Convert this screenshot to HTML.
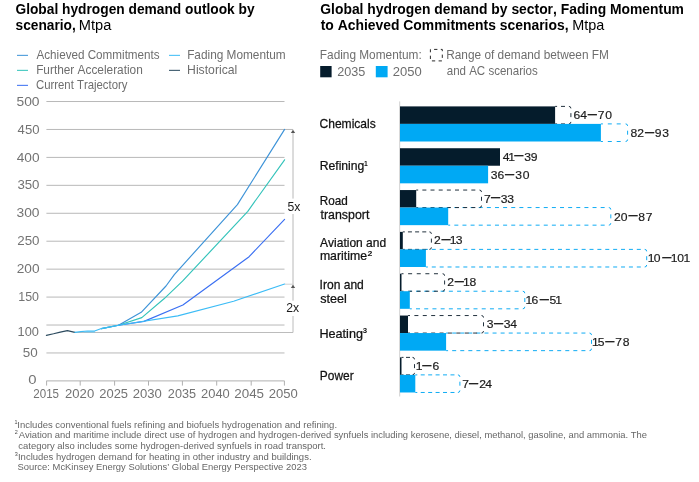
<!DOCTYPE html>
<html><head><meta charset="utf-8"><title>Global hydrogen demand</title>
<style>
html,body{margin:0;padding:0;background:#fff;}
body{width:699px;height:482px;overflow:hidden;}
svg{display:block;will-change:transform;font-family:'Liberation Sans', Arial, sans-serif;font-kerning:none;}
</style></head><body>
<svg width="699" height="482" viewBox="0 0 699 482">
<text transform="matrix(0.9554,0,0,1,15.44,13.60)" font-size="14.4" font-weight="bold" fill="#000">Global hydrogen demand outlook by</text>
<text transform="matrix(0.9537,0,0,1,15.52,30.10)" font-size="14.4" font-weight="bold" fill="#000">scenario,</text>
<text transform="matrix(1.0152,0,0,1,78.80,30.10)" font-size="14.4" fill="#000">Mtpa</text>
<text transform="matrix(0.9642,0,0,1,320.33,14.10)" font-size="14.4" font-weight="bold" fill="#000">Global hydrogen demand by sector, Fading Momentum</text>
<text transform="matrix(0.9655,0,0,1,320.73,29.90)" font-size="14.4" font-weight="bold" fill="#000">to Achieved Commitments scenarios,</text>
<text transform="matrix(1.0022,0,0,1,572.32,29.90)" font-size="14.4" fill="#000">Mtpa</text>
<line x1="17" y1="55.4" x2="28" y2="55.4" stroke="#3d93d8" stroke-width="1.2" opacity="0.85"/>
<text transform="matrix(0.9345,0,0,1,36.48,58.90)" font-size="12.5" fill="#6e6e6e">Achieved Commitments</text>
<line x1="17" y1="70.4" x2="28" y2="70.4" stroke="#33c3ba" stroke-width="1.2" opacity="0.85"/>
<text transform="matrix(0.9484,0,0,1,36.13,74.20)" font-size="12.5" fill="#6e6e6e">Further Acceleration</text>
<line x1="17" y1="85.4" x2="28" y2="85.4" stroke="#3a6ff2" stroke-width="1.2" opacity="0.85"/>
<text transform="matrix(0.9104,0,0,1,35.92,89.10)" font-size="12.5" fill="#6e6e6e">Current Trajectory</text>
<line x1="169" y1="55.4" x2="180" y2="55.4" stroke="#3cbcf6" stroke-width="1.2" opacity="0.85"/>
<text transform="matrix(0.9476,0,0,1,187.13,58.90)" font-size="12.5" fill="#6e6e6e">Fading Momentum</text>
<line x1="169" y1="70.4" x2="180" y2="70.4" stroke="#2b4a5e" stroke-width="1.2" opacity="0.85"/>
<text transform="matrix(0.9771,0,0,1,187.10,74.20)" font-size="12.5" fill="#6e6e6e">Historical</text>
<line x1="46.4" y1="352.96" x2="284.5" y2="352.96" stroke="#b8b8b8" stroke-width="1"/>
<line x1="46.4" y1="325.02" x2="284.5" y2="325.02" stroke="#b8b8b8" stroke-width="1"/>
<line x1="46.4" y1="297.09" x2="284.5" y2="297.09" stroke="#b8b8b8" stroke-width="1"/>
<line x1="46.4" y1="269.15" x2="284.5" y2="269.15" stroke="#b8b8b8" stroke-width="1"/>
<line x1="46.4" y1="241.21" x2="284.5" y2="241.21" stroke="#b8b8b8" stroke-width="1"/>
<line x1="46.4" y1="213.27" x2="284.5" y2="213.27" stroke="#b8b8b8" stroke-width="1"/>
<line x1="46.4" y1="185.34" x2="284.5" y2="185.34" stroke="#b8b8b8" stroke-width="1"/>
<line x1="46.4" y1="157.40" x2="284.5" y2="157.40" stroke="#b8b8b8" stroke-width="1"/>
<line x1="46.4" y1="129.46" x2="293.2" y2="129.46" stroke="#b8b8b8" stroke-width="1"/>
<line x1="46.4" y1="101.52" x2="284.5" y2="101.52" stroke="#b8b8b8" stroke-width="1"/>
<line x1="46.4" y1="380.9" x2="284.5" y2="380.9" stroke="#b0b0b0" stroke-width="1"/>
<line x1="46.6" y1="380.9" x2="46.6" y2="385.6" stroke="#b0b0b0" stroke-width="1"/>
<line x1="80.2" y1="380.9" x2="80.2" y2="385.6" stroke="#b0b0b0" stroke-width="1"/>
<line x1="114.6" y1="380.9" x2="114.6" y2="385.6" stroke="#b0b0b0" stroke-width="1"/>
<line x1="148.5" y1="380.9" x2="148.5" y2="385.6" stroke="#b0b0b0" stroke-width="1"/>
<line x1="182.4" y1="380.9" x2="182.4" y2="385.6" stroke="#b0b0b0" stroke-width="1"/>
<line x1="216.7" y1="380.9" x2="216.7" y2="385.6" stroke="#b0b0b0" stroke-width="1"/>
<line x1="251.2" y1="380.9" x2="251.2" y2="385.6" stroke="#b0b0b0" stroke-width="1"/>
<line x1="284.4" y1="380.9" x2="284.4" y2="385.6" stroke="#b0b0b0" stroke-width="1"/>
<text transform="matrix(1.0899,0,0,1,16.45,105.80)" font-size="12.7" fill="#737373">500</text>
<text transform="matrix(1.0342,0,0,1,17.60,134.00)" font-size="12.7" fill="#737373">450</text>
<text transform="matrix(1.0783,0,0,1,16.69,162.00)" font-size="12.7" fill="#737373">400</text>
<text transform="matrix(1.0441,0,0,1,17.39,189.30)" font-size="12.7" fill="#737373">350</text>
<text transform="matrix(1.0886,0,0,1,16.47,217.40)" font-size="12.7" fill="#737373">300</text>
<text transform="matrix(1.0521,0,0,1,17.23,245.00)" font-size="12.7" fill="#737373">250</text>
<text transform="matrix(1.0771,0,0,1,16.71,272.60)" font-size="12.7" fill="#737373">200</text>
<text transform="matrix(0.9784,0,0,1,18.25,301.30)" font-size="12.7" fill="#737373">150</text>
<text transform="matrix(1.0088,0,0,1,17.62,335.60)" font-size="12.7" fill="#737373">100</text>
<text transform="matrix(1.0593,0,0,1,22.76,356.60)" font-size="12.7" fill="#737373">50</text>
<text transform="matrix(1.1695,0,0,1,28.32,384.40)" font-size="12.7" fill="#737373">0</text>
<text transform="matrix(0.9121,0,0,1,33.32,397.90)" font-size="12.7" fill="#737373">2015</text>
<text transform="matrix(1.0325,0,0,1,65.04,397.90)" font-size="12.7" fill="#737373">2020</text>
<text transform="matrix(1.0192,0,0,1,99.25,397.90)" font-size="12.7" fill="#737373">2025</text>
<text transform="matrix(1.0325,0,0,1,132.64,397.90)" font-size="12.7" fill="#737373">2030</text>
<text transform="matrix(0.9970,0,0,1,167.86,397.90)" font-size="12.7" fill="#737373">2035</text>
<text transform="matrix(1.0178,0,0,1,201.05,397.90)" font-size="12.7" fill="#737373">2040</text>
<text transform="matrix(1.0561,0,0,1,234.23,397.90)" font-size="12.7" fill="#737373">2045</text>
<text transform="matrix(1.0288,0,0,1,268.84,397.90)" font-size="12.7" fill="#737373">2050</text>
<polyline points="75,332.5 293,332.5 293,316" fill="none" stroke="#bcbcbc" stroke-width="1"/>
<line x1="293" y1="132" x2="293" y2="198.6" stroke="#b8b8b8" stroke-width="1"/>
<line x1="293" y1="214" x2="293" y2="300.7" stroke="#b8b8b8" stroke-width="1"/>
<line x1="284.8" y1="284.2" x2="293" y2="284.2" stroke="#d0d0d0" stroke-width="1"/>
<polygon points="293,129.8 295.2,132.9 290.8,132.9" fill="#555"/>
<polygon points="293,284.8 295.2,287.9 290.8,287.9" fill="#555"/>
<text transform="matrix(1.0028,0,0,1,287.51,211.30)" font-size="12.2" fill="#1a1a1a">5x</text>
<text transform="matrix(1.0049,0,0,1,286.28,311.90)" font-size="12.2" fill="#1a1a1a">2x</text>
<polyline points="46.4,335.4 53.5,333.8 60.3,332.1 67.4,330.6 74.9,332.4" fill="none" stroke="#2b4a5e" stroke-width="1.15" stroke-linejoin="round" stroke-linecap="round"/>
<polyline points="101.4,328.6 118.5,325.3 144,321.4 182.9,305.0 249.1,256.7 284.6,219.3" fill="none" stroke="#3a6ff2" stroke-width="1.15" stroke-linejoin="round" stroke-linecap="round"/>
<polyline points="101.4,328.6 118.5,325.3 141.8,317.6 164,298.8 182.5,281.2 247.8,211.3 284.6,159.8" fill="none" stroke="#33c3ba" stroke-width="1.15" stroke-linejoin="round" stroke-linecap="round"/>
<polyline points="118.5,325.3 141.2,312.3 166,286 174.3,274.6 237.4,204.6 284.6,129.4" fill="none" stroke="#3d93d8" stroke-width="1.15" stroke-linejoin="round" stroke-linecap="round"/>
<polyline points="118.5,325.3 177.8,315.9 233.6,301.3 284.6,284.0" fill="none" stroke="#3cbcf6" stroke-width="1.15" stroke-linejoin="round" stroke-linecap="round"/>
<polyline points="74.9,332.4 81,331.6 87.5,331.0 94.6,331.1 101.4,328.6 118.5,325.3" fill="none" stroke="#3cbcf6" stroke-width="1.1" stroke-linejoin="round" stroke-linecap="round"/>
<polyline points="84,331.9 94.6,331.9" fill="none" stroke="#5cc6f7" stroke-width="1.0" stroke-linejoin="round" stroke-linecap="round"/>
<text transform="matrix(0.9477,0,0,1,319.83,58.80)" font-size="12.5" fill="#6e6e6e">Fading Momentum:</text>
<rect x="320.2" y="66" width="11.4" height="11.3" fill="#051c2c"/>
<text transform="matrix(1.0130,0,0,1,337.16,76.40)" font-size="12.5" fill="#6e6e6e">2035</text>
<rect x="375.8" y="66" width="11.8" height="11.3" fill="#00a9f4"/>
<text transform="matrix(1.0416,0,0,1,392.75,76.40)" font-size="12.5" fill="#6e6e6e">2050</text>
<rect x="430.4" y="49.4" width="11.9" height="11.5" fill="none" stroke="#2a2a2a" stroke-width="1" stroke-dasharray="3.3 3.4" stroke-dashoffset="3.0"/>
<text transform="matrix(0.9482,0,0,1,446.23,59.40)" font-size="12.5" fill="#6e6e6e">Range of demand between FM</text>
<text transform="matrix(0.9244,0,0,1,446.71,74.90)" font-size="12.5" fill="#6e6e6e">and AC scenarios</text>
<line x1="399.7" y1="101.4" x2="399.7" y2="396.5" stroke="#d0d0d0" stroke-width="1"/>
<path d="M600.90,123.90h2M607.80,123.90H611.80M616.70,123.90H620.70M625.60,123.90Q627.60,123.90 627.60,125.90M627.60,130.70V134.70M627.60,139.50Q627.60,141.50 625.60,141.50M607.80,141.50H611.80M616.70,141.50H620.70M600.90,141.50h2" fill="none" stroke="#10acf4" stroke-width="1"/>
<path d="M555.10,106.40h2M561.00,106.40H565.00M568.90,106.40Q570.90,106.40 570.90,108.40M570.90,113.15V117.15M570.90,121.90Q570.90,123.90 568.90,123.90M561.00,123.90H565.00M555.10,123.90h2" fill="none" stroke="#23323e" stroke-width="1"/>
<text transform="matrix(1.03,0,0,1,0,118.90)" font-size="11.8" fill="#1a1a1a" stroke="#1a1a1a" stroke-width="0.18"><tspan x="556.73 563.31">64</tspan><tspan x="570.70" y="-0.25" font-size="16.0">–</tspan><tspan x="580.45 587.54" y="0">70</tspan></text>
<text transform="matrix(1.03,0,0,1,0,137.00)" font-size="11.8" fill="#1a1a1a" stroke="#1a1a1a" stroke-width="0.18"><tspan x="612.20 618.81">82</tspan><tspan x="626.13" y="-0.25" font-size="16.0">–</tspan><tspan x="635.80 642.92" y="0">93</tspan></text>
<text transform="matrix(1.03,0,0,1,0,160.73)" font-size="11.8" fill="#1a1a1a" stroke="#1a1a1a" stroke-width="0.18"><tspan x="488.16 493.35">41</tspan><tspan x="499.19" y="-0.25" font-size="16.0">–</tspan><tspan x="509.03 515.31" y="0">39</tspan></text>
<text transform="matrix(1.03,0,0,1,0,178.83)" font-size="11.8" fill="#1a1a1a" stroke="#1a1a1a" stroke-width="0.18"><tspan x="476.51 482.94">36</tspan><tspan x="490.36" y="-0.25" font-size="16.0">–</tspan><tspan x="500.30 507.54" y="0">30</tspan></text>
<path d="M448.20,207.56h2M454.33,207.56H458.33M462.46,207.56H466.46M470.59,207.56H474.59M478.72,207.56H482.72M486.85,207.56H490.85M494.98,207.56H498.98M503.11,207.56H507.11M511.24,207.56H515.24M519.37,207.56H523.37M527.50,207.56H531.50M535.63,207.56H539.63M543.76,207.56H547.76M551.89,207.56H555.89M560.02,207.56H564.02M568.15,207.56H572.15M576.28,207.56H580.28M584.41,207.56H588.41M592.54,207.56H596.54M600.67,207.56H604.67M608.80,207.56Q610.80,207.56 610.80,209.56M610.80,214.36V218.36M610.80,223.16Q610.80,225.16 608.80,225.16M454.33,225.16H458.33M462.46,225.16H466.46M470.59,225.16H474.59M478.72,225.16H482.72M486.85,225.16H490.85M494.98,225.16H498.98M503.11,225.16H507.11M511.24,225.16H515.24M519.37,225.16H523.37M527.50,225.16H531.50M535.63,225.16H539.63M543.76,225.16H547.76M551.89,225.16H555.89M560.02,225.16H564.02M568.15,225.16H572.15M576.28,225.16H580.28M584.41,225.16H588.41M592.54,225.16H596.54M600.67,225.16H604.67M448.20,225.16h2" fill="none" stroke="#10acf4" stroke-width="1"/>
<path d="M416.20,190.06h2M422.36,190.06H426.36M430.52,190.06H434.52M438.69,190.06H442.69M446.85,190.06H450.85M455.01,190.06H459.01M463.18,190.06H467.18M471.34,190.06H475.34M479.50,190.06Q481.50,190.06 481.50,192.06M481.50,196.81V200.81M481.50,205.56Q481.50,207.56 479.50,207.56M422.36,207.56H426.36M430.52,207.56H434.52M438.69,207.56H442.69M446.85,207.56H450.85M455.01,207.56H459.01M463.18,207.56H467.18M471.34,207.56H475.34M416.20,207.56h2" fill="none" stroke="#23323e" stroke-width="1"/>
<text transform="matrix(1.03,0,0,1,0,202.56)" font-size="11.8" fill="#1a1a1a" stroke="#1a1a1a" stroke-width="0.18"><tspan x="469.82">7</tspan><tspan x="476.67" y="-0.25" font-size="16.0">–</tspan><tspan x="486.12 492.53" y="0">33</tspan></text>
<text transform="matrix(1.03,0,0,1,0,220.66)" font-size="11.8" fill="#1a1a1a" stroke="#1a1a1a" stroke-width="0.18"><tspan x="596.18 602.79">20</tspan><tspan x="610.12" y="-0.25" font-size="16.0">–</tspan><tspan x="619.78 626.86" y="0">87</tspan></text>
<path d="M425.90,249.39h2M431.79,249.39H435.79M439.67,249.39H443.67M447.56,249.39H451.56M455.44,249.39H459.44M463.33,249.39H467.33M471.21,249.39H475.21M479.10,249.39H483.10M486.99,249.39H490.99M494.87,249.39H498.87M502.76,249.39H506.76M510.64,249.39H514.64M518.53,249.39H522.53M526.41,249.39H530.41M534.30,249.39H538.30M542.19,249.39H546.19M550.07,249.39H554.07M557.96,249.39H561.96M565.84,249.39H569.84M573.73,249.39H577.73M581.61,249.39H585.61M589.50,249.39H593.50M597.39,249.39H601.39M605.27,249.39H609.27M613.16,249.39H617.16M621.04,249.39H625.04M628.93,249.39H632.93M636.81,249.39H640.81M644.70,249.39Q646.70,249.39 646.70,251.39M646.70,256.19V260.19M646.70,264.99Q646.70,266.99 644.70,266.99M431.79,266.99H435.79M439.67,266.99H443.67M447.56,266.99H451.56M455.44,266.99H459.44M463.33,266.99H467.33M471.21,266.99H475.21M479.10,266.99H483.10M486.99,266.99H490.99M494.87,266.99H498.87M502.76,266.99H506.76M510.64,266.99H514.64M518.53,266.99H522.53M526.41,266.99H530.41M534.30,266.99H538.30M542.19,266.99H546.19M550.07,266.99H554.07M557.96,266.99H561.96M565.84,266.99H569.84M573.73,266.99H577.73M581.61,266.99H585.61M589.50,266.99H593.50M597.39,266.99H601.39M605.27,266.99H609.27M613.16,266.99H617.16M621.04,266.99H625.04M628.93,266.99H632.93M636.81,266.99H640.81M425.90,266.99h2" fill="none" stroke="#10acf4" stroke-width="1"/>
<path d="M402.80,231.89h2M407.95,231.89H411.95M415.10,231.89H419.10M422.25,231.89H426.25M429.40,231.89Q431.40,231.89 431.40,233.89M431.40,238.64V242.64M431.40,247.39Q431.40,249.39 429.40,249.39M407.95,249.39H411.95M415.10,249.39H419.10M422.25,249.39H426.25M402.80,249.39h2" fill="none" stroke="#23323e" stroke-width="1"/>
<text transform="matrix(1.03,0,0,1,0,244.39)" font-size="11.8" fill="#1a1a1a" stroke="#1a1a1a" stroke-width="0.18"><tspan x="421.38">2</tspan><tspan x="428.61" y="-0.25" font-size="16.0">–</tspan><tspan x="436.56 442.43" y="0">13</tspan></text>
<text transform="matrix(1.03,0,0,1,0,262.49)" font-size="11.8" fill="#1a1a1a" stroke="#1a1a1a" stroke-width="0.18"><tspan x="628.89 634.83">10</tspan><tspan x="642.98" y="-0.25" font-size="16.0">–</tspan><tspan x="651.12 657.50 663.55" y="0">101</tspan></text>
<path d="M409.80,291.22h2M416.01,291.22H420.01M424.23,291.22H428.23M432.44,291.22H436.44M440.66,291.22H444.66M448.87,291.22H452.87M457.09,291.22H461.09M465.30,291.22H469.30M473.51,291.22H477.51M481.73,291.22H485.73M489.94,291.22H493.94M498.16,291.22H502.16M506.37,291.22H510.37M514.59,291.22H518.59M522.80,291.22Q524.80,291.22 524.80,293.22M524.80,298.02V302.02M524.80,306.82Q524.80,308.82 522.80,308.82M416.01,308.82H420.01M424.23,308.82H428.23M432.44,308.82H436.44M440.66,308.82H444.66M448.87,308.82H452.87M457.09,308.82H461.09M465.30,308.82H469.30M473.51,308.82H477.51M481.73,308.82H485.73M489.94,308.82H493.94M498.16,308.82H502.16M506.37,308.82H510.37M514.59,308.82H518.59M409.80,308.82h2" fill="none" stroke="#10acf4" stroke-width="1"/>
<path d="M401.50,273.72h2M408.12,273.72H412.12M416.74,273.72H420.74M425.36,273.72H429.36M433.98,273.72H437.98M442.60,273.72Q444.60,273.72 444.60,275.72M444.60,280.47V284.47M444.60,289.22Q444.60,291.22 442.60,291.22M408.12,291.22H412.12M416.74,291.22H420.74M425.36,291.22H429.36M433.98,291.22H437.98M401.50,291.22h2" fill="none" stroke="#23323e" stroke-width="1"/>
<text transform="matrix(1.03,0,0,1,0,286.22)" font-size="11.8" fill="#1a1a1a" stroke="#1a1a1a" stroke-width="0.18"><tspan x="434.29">2</tspan><tspan x="441.47" y="-0.25" font-size="16.0">–</tspan><tspan x="449.47 455.80" y="0">18</tspan></text>
<text transform="matrix(1.03,0,0,1,0,304.32)" font-size="11.8" fill="#1a1a1a" stroke="#1a1a1a" stroke-width="0.18"><tspan x="510.15 515.95">16</tspan><tspan x="524.00" y="-0.25" font-size="16.0">–</tspan><tspan x="533.57 538.98" y="0">51</tspan></text>
<path d="M446.10,333.05h2M452.18,333.05H456.18M460.26,333.05H464.26M468.33,333.05H472.33M476.41,333.05H480.41M484.49,333.05H488.49M492.57,333.05H496.57M500.64,333.05H504.64M508.72,333.05H512.72M516.80,333.05H520.80M524.88,333.05H528.88M532.96,333.05H536.96M541.03,333.05H545.03M549.11,333.05H553.11M557.19,333.05H561.19M565.27,333.05H569.27M573.34,333.05H577.34M581.42,333.05H585.42M589.50,333.05Q591.50,333.05 591.50,335.05M591.50,339.85V343.85M591.50,348.65Q591.50,350.65 589.50,350.65M452.18,350.65H456.18M460.26,350.65H464.26M468.33,350.65H472.33M476.41,350.65H480.41M484.49,350.65H488.49M492.57,350.65H496.57M500.64,350.65H504.64M508.72,350.65H512.72M516.80,350.65H520.80M524.88,350.65H528.88M532.96,350.65H536.96M541.03,350.65H545.03M549.11,350.65H553.11M557.19,350.65H561.19M565.27,350.65H569.27M573.34,350.65H577.34M581.42,350.65H585.42M446.10,350.65h2" fill="none" stroke="#10acf4" stroke-width="1"/>
<path d="M408.00,315.55h2M414.39,315.55H418.39M422.78,315.55H426.78M431.17,315.55H435.17M439.56,315.55H443.56M447.94,315.55H451.94M456.33,315.55H460.33M464.72,315.55H468.72M473.11,315.55H477.11M481.50,315.55Q483.50,315.55 483.50,317.55M483.50,322.30V326.30M483.50,331.05Q483.50,333.05 481.50,333.05M414.39,333.05H418.39M422.78,333.05H426.78M431.17,333.05H435.17M439.56,333.05H443.56M447.94,333.05H451.94M456.33,333.05H460.33M464.72,333.05H468.72M473.11,333.05H477.11M408.00,333.05h2" fill="none" stroke="#23323e" stroke-width="1"/>
<text transform="matrix(1.03,0,0,1,0,328.05)" font-size="11.8" fill="#1a1a1a" stroke="#1a1a1a" stroke-width="0.18"><tspan x="472.63">3</tspan><tspan x="479.68" y="-0.25" font-size="16.0">–</tspan><tspan x="489.03 495.45" y="0">34</tspan></text>
<text transform="matrix(1.03,0,0,1,0,346.15)" font-size="11.8" fill="#1a1a1a" stroke="#1a1a1a" stroke-width="0.18"><tspan x="574.81 580.37">15</tspan><tspan x="587.64" y="-0.25" font-size="16.0">–</tspan><tspan x="597.44 604.73" y="0">78</tspan></text>
<path d="M415.30,374.88h2M420.73,374.88H424.73M428.17,374.88H432.17M435.60,374.88H439.60M443.03,374.88H447.03M450.47,374.88H454.47M457.90,374.88Q459.90,374.88 459.90,376.88M459.90,381.68V385.68M459.90,390.48Q459.90,392.48 457.90,392.48M420.73,392.48H424.73M428.17,392.48H432.17M435.60,392.48H439.60M443.03,392.48H447.03M450.47,392.48H454.47M415.30,392.48h2" fill="none" stroke="#10acf4" stroke-width="1"/>
<path d="M401.50,357.38h2M406.00,357.38H410.00M412.50,357.38Q414.50,357.38 414.50,359.38M414.50,364.13V368.13M414.50,372.88Q414.50,374.88 412.50,374.88M406.00,374.88H410.00M401.50,374.88h2" fill="none" stroke="#23323e" stroke-width="1"/>
<text transform="matrix(1.03,0,0,1,0,369.88)" font-size="11.8" fill="#1a1a1a" stroke="#1a1a1a" stroke-width="0.18"><tspan x="403.55">1</tspan><tspan x="409.87" y="-0.25" font-size="16.0">–</tspan><tspan x="419.88" y="0">6</tspan></text>
<text transform="matrix(1.03,0,0,1,0,387.98)" font-size="11.8" fill="#1a1a1a" stroke="#1a1a1a" stroke-width="0.18"><tspan x="448.90">7</tspan><tspan x="455.45" y="-0.25" font-size="16.0">–</tspan><tspan x="465.31 471.17" y="0">24</tspan></text>
<rect x="400" y="106.40" width="155.10" height="17.5" fill="#051c2c"/>
<rect x="400" y="123.90" width="200.90" height="17.6" fill="#00a9f4"/>
<rect x="400" y="148.23" width="100.00" height="17.5" fill="#051c2c"/>
<rect x="400" y="165.73" width="88.10" height="17.6" fill="#00a9f4"/>
<rect x="400" y="190.06" width="16.20" height="17.5" fill="#051c2c"/>
<rect x="400" y="207.56" width="48.20" height="17.6" fill="#00a9f4"/>
<rect x="400" y="231.89" width="2.80" height="17.5" fill="#051c2c"/>
<rect x="400" y="249.39" width="25.90" height="17.6" fill="#00a9f4"/>
<rect x="400" y="273.72" width="1.50" height="17.5" fill="#051c2c"/>
<rect x="400" y="291.22" width="9.80" height="17.6" fill="#00a9f4"/>
<rect x="400" y="315.55" width="8.00" height="17.5" fill="#051c2c"/>
<rect x="400" y="333.05" width="46.10" height="17.6" fill="#00a9f4"/>
<rect x="400" y="357.38" width="1.50" height="17.5" fill="#051c2c"/>
<rect x="400" y="374.88" width="15.30" height="17.6" fill="#00a9f4"/>
<text transform="matrix(0.9657,0,0,1,319.49,128.30)" font-size="12.5" fill="#111" stroke="#111" stroke-width="0.25">Chemicals</text>
<text transform="matrix(0.9743,0,0,1,319.70,170.20)" font-size="12.5" fill="#111" stroke="#111" stroke-width="0.25">Refining</text>
<text transform="matrix(0.8500,0,0,1,363.97,165.80)" font-size="8.0" font-weight="bold" fill="#111">1</text>
<text transform="matrix(0.9376,0,0,1,319.74,205.40)" font-size="12.5" fill="#111" stroke="#111" stroke-width="0.25">Road</text>
<text transform="matrix(0.9909,0,0,1,320.51,219.20)" font-size="12.5" fill="#111" stroke="#111" stroke-width="0.25">transport</text>
<text transform="matrix(0.9607,0,0,1,320.08,246.70)" font-size="12.5" fill="#111" stroke="#111" stroke-width="0.25">Aviation and</text>
<text transform="matrix(0.9842,0,0,1,319.88,260.40)" font-size="12.5" fill="#111" stroke="#111" stroke-width="0.25">maritime</text>
<text transform="matrix(1.1184,0,0,1,367.60,256.00)" font-size="7.8" font-weight="bold" fill="#111">2</text>
<text transform="matrix(0.9656,0,0,1,319.59,289.30)" font-size="12.5" fill="#111" stroke="#111" stroke-width="0.25">Iron and</text>
<text transform="matrix(1.0071,0,0,1,320.15,303.00)" font-size="12.5" fill="#111" stroke="#111" stroke-width="0.25">steel</text>
<text transform="matrix(1.0108,0,0,1,319.46,337.70)" font-size="12.5" fill="#111" stroke="#111" stroke-width="0.25">Heating</text>
<text transform="matrix(1.0059,0,0,1,362.82,332.70)" font-size="7.8" font-weight="bold" fill="#111">3</text>
<text transform="matrix(0.9562,0,0,1,319.82,380.20)" font-size="12.5" fill="#111" stroke="#111" stroke-width="0.25">Power</text>
<text transform="matrix(0.9200,0,0,1,14.59,424.40)" font-size="5.9" fill="#4a4a4a">1</text>
<text transform="matrix(0.9915,0,0,1,17.32,427.80)" font-size="9.6" fill="#666">Includes conventional fuels refining and biofuels hydrogenation and refining.</text>
<text transform="matrix(0.9200,0,0,1,14.83,434.40)" font-size="5.9" fill="#4a4a4a">2</text>
<text transform="matrix(0.9794,0,0,1,18.78,438.30)" font-size="9.6" fill="#666">Aviation and maritime include direct use of hydrogen and hydrogen-derived synfuels including kerosene, diesel, methanol, gasoline, and ammonia. The</text>
<text transform="matrix(0.9886,0,0,1,18.30,448.70)" font-size="9.6" fill="#666">category also includes some hydrogen-derived synfuels in road transport.</text>
<text transform="matrix(0.9200,0,0,1,14.79,455.90)" font-size="5.9" fill="#4a4a4a">3</text>
<text transform="matrix(0.9898,0,0,1,17.97,459.50)" font-size="9.6" fill="#666">Includes hydrogen demand for heating in other industry and buildings.</text>
<text transform="matrix(0.9826,0,0,1,17.47,470.40)" font-size="9.6" fill="#666">Source: McKinsey Energy Solutions’ Global Energy Perspective 2023</text>
</svg>
</body></html>
